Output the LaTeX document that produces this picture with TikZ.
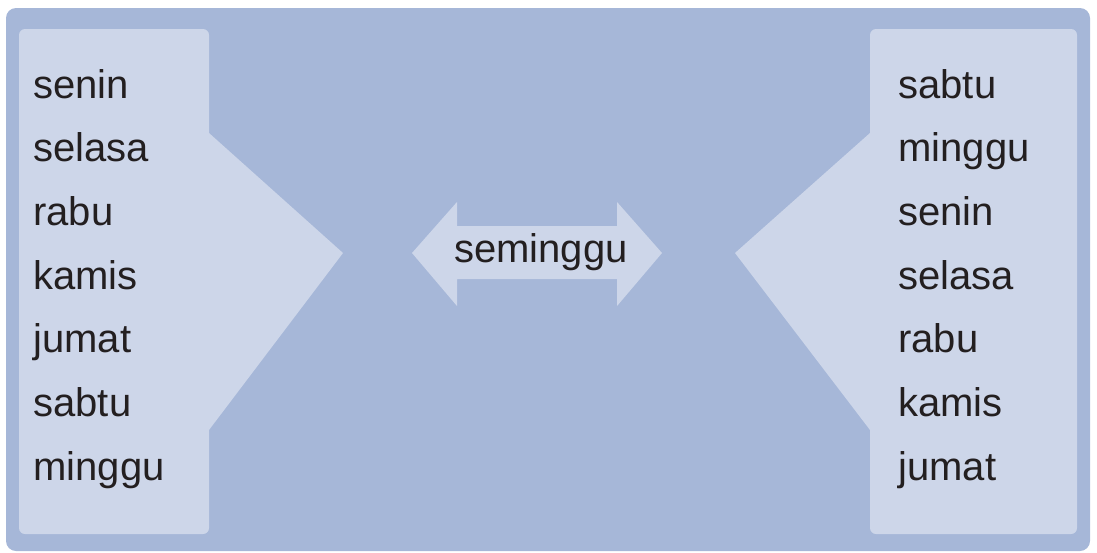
\documentclass[tikz,border=0pt]{standalone}
\usepackage{fontspec}
\setmainfont{Liberation Sans}
\usepackage{tikz}
\usetikzlibrary{positioning}
\definecolor{bgblue}{RGB}{166,183,216}
\definecolor{panelblue}{RGB}{205,214,233}
\definecolor{inkdark}{RGB}{35,31,32}

\begin{document}
\begin{tikzpicture}[x=0.5pt, y=-0.5pt,
    day/.style={inkdark, inner sep=0pt, anchor=base west, font=\fontsize{20}{24}\selectfont}]
    \useasboundingbox (0,0) rectangle (1097,552);
    \fill[bgblue, rounded corners=5pt] (6,8) rectangle (1090,551);
    % left list with its wedge
    \fill[panelblue, rounded corners=3pt] (19,29) rectangle (209,534)
        [sharp corners] (209,133) -- (343,253) -- (209,430) -- cycle;
    % right list with its wedge
    \fill[panelblue, rounded corners=3pt] (870,29) rectangle (1077,534)
        [sharp corners] (870,133) -- (735,253) -- (870,430) -- cycle;
    % double arrow in the middle
    \fill[panelblue] (412,253) -- (457,202) -- (457,226) -- (617,226) -- (617,202)
        -- (662,253) -- (617,306) -- (617,279) -- (457,279) -- (457,306) -- cycle;
    \node[day, anchor=base] (week) at (541,262) {seminggu};
    \foreach \d [count=\i] in {senin,selasa,rabu,kamis,jumat,sabtu,minggu}
      \node[day] (left\i) at (33,{98+63.7*(\i-1)}) {\d};
    \foreach \d [count=\i] in {sabtu,minggu,senin,selasa,rabu,kamis,jumat}
      \node[day] (right\i) at (898,{98+63.7*(\i-1)}) {\d};
  \end{tikzpicture}
\end{document}
